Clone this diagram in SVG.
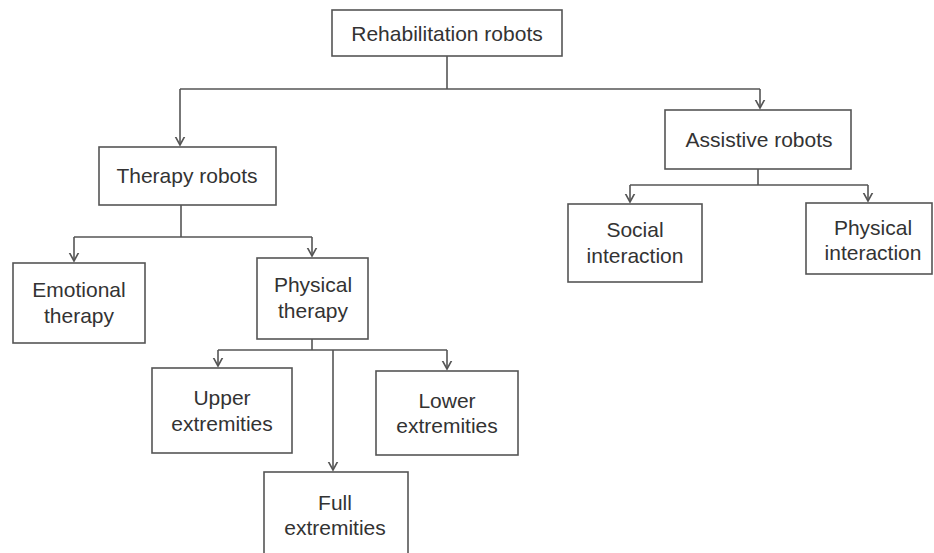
<svg xmlns="http://www.w3.org/2000/svg" width="934" height="553" viewBox="0 0 934 553">
<style>
.box{fill:#fff;stroke:#555;stroke-width:1.6}
.lbl{font-family:"Liberation Sans",Arial,sans-serif;font-size:21px;fill:#333;text-anchor:middle}
.ln{fill:none;stroke:#555;stroke-width:1.6}
</style>
<defs>
<marker id="ah" markerWidth="16" markerHeight="16" refX="0" refY="0" viewBox="-8 -8 16 16" orient="auto" markerUnits="userSpaceOnUse">
<path d="M-11,-6 L0,0 L-11,6" fill="none" stroke="#555" stroke-width="1.6"/>
</marker>
</defs>
<rect width="934" height="553" fill="#fff"/>
<g id="connectors">
<path class="ln" d="M447,56 V89"/>
<path class="ln" d="M180,89 H760"/>
<path class="ln" d="M180,89 V145" marker-end="url(#ah)"/>
<path class="ln" d="M760,89 V108" marker-end="url(#ah)"/>
<path class="ln" d="M181,205 V237"/>
<path class="ln" d="M74,237 H312"/>
<path class="ln" d="M74,237 V261" marker-end="url(#ah)"/>
<path class="ln" d="M312,237 V256" marker-end="url(#ah)"/>
<path class="ln" d="M758,169 V185"/>
<path class="ln" d="M630,185 H868"/>
<path class="ln" d="M630,185 V202" marker-end="url(#ah)"/>
<path class="ln" d="M868,185 V201" marker-end="url(#ah)"/>
<path class="ln" d="M312,339 V350"/>
<path class="ln" d="M218,350 H447"/>
<path class="ln" d="M218,350 V366" marker-end="url(#ah)"/>
<path class="ln" d="M447,350 V369" marker-end="url(#ah)"/>
<path class="ln" d="M333,350 V470" marker-end="url(#ah)"/>
</g>
<g id="rehab"><rect class="box" x="332" y="10" width="230" height="46"/><text class="lbl" x="447" y="41">Rehabilitation robots</text></g>
<g id="therapy"><rect class="box" x="99" y="147" width="177" height="58"/><text class="lbl" x="187" y="183">Therapy robots</text></g>
<g id="assistive"><rect class="box" x="665" y="110" width="186" height="59"/><text class="lbl" x="759" y="147">Assistive robots</text></g>
<g id="emotional"><rect class="box" x="13" y="263" width="132" height="80"/><text class="lbl" x="79" y="297">Emotional</text><text class="lbl" x="79" y="323">therapy</text></g>
<g id="physical-therapy"><rect class="box" x="257" y="258" width="111" height="81"/><text class="lbl" x="313" y="292">Physical</text><text class="lbl" x="313" y="318">therapy</text></g>
<g id="social"><rect class="box" x="568" y="204" width="134" height="78"/><text class="lbl" x="635" y="237">Social</text><text class="lbl" x="635" y="263">interaction</text></g>
<g id="physical-interaction"><rect class="box" x="806" y="203" width="126" height="71"/><text class="lbl" x="873" y="235">Physical</text><text class="lbl" x="873" y="260">interaction</text></g>
<g id="upper"><rect class="box" x="152" y="368" width="140" height="85"/><text class="lbl" x="222" y="405">Upper</text><text class="lbl" x="222" y="431">extremities</text></g>
<g id="lower"><rect class="box" x="376" y="371" width="142" height="84"/><text class="lbl" x="447" y="408">Lower</text><text class="lbl" x="447" y="433">extremities</text></g>
<g id="full"><rect class="box" x="264" y="472" width="144" height="95"/><text class="lbl" x="335" y="510">Full</text><text class="lbl" x="335" y="535">extremities</text></g>
</svg>
